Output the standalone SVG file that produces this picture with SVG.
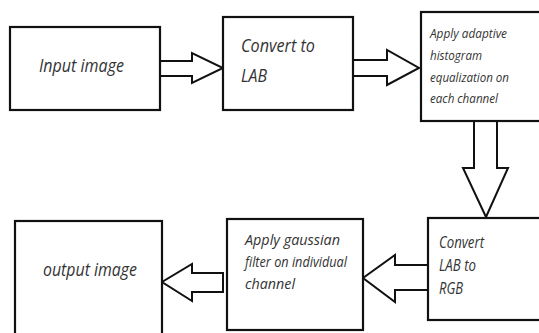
<svg xmlns="http://www.w3.org/2000/svg" width="539" height="333" viewBox="0 0 539 333">
<style>
.box{fill:#fff;stroke:#111;stroke-width:2.2}
.arr{fill:#fff;stroke:#111;stroke-width:2;stroke-linejoin:miter}
text{font-family:"Open Sans","Noto Sans","DejaVu Sans",sans-serif;font-style:italic;fill:#333}
</style>
<rect width="539" height="333" fill="#fff"/>
<g id="connectors">
<polygon class="arr" points="160,61 192,61 192,53 223,68 192,83 192,76 160,76"/>
<polygon class="arr" points="353,60 387,60 387,50 419,68 387,85 387,76 353,76"/>
<polygon class="arr" points="474,121 474,168 463,168 486,217 508,168 497,168 497,121"/>
<polygon class="arr" points="428,265 395,265 395,255 363,278 395,302 395,290 428,290"/>
<polygon class="arr" points="223,273 192,273 192,264 162,282 192,301 192,292 223,292"/>
</g>
<g id="input">
<rect class="box" x="10" y="27" width="150" height="83"/>
<text x="39" y="72" font-size="18" textLength="85" lengthAdjust="spacingAndGlyphs">Input image</text>
</g>
<g id="convert-lab">
<rect class="box" x="223" y="17" width="130" height="93"/>
<text x="241" y="52" font-size="19" textLength="74" lengthAdjust="spacingAndGlyphs">Convert to</text>
<text x="241" y="82" font-size="19" textLength="26" lengthAdjust="spacingAndGlyphs">LAB</text>
</g>
<g id="histeq">
<rect class="box" x="421" y="12" width="130" height="109"/>
<text font-size="13.5" x="430">
<tspan x="430" y="38" textLength="77" lengthAdjust="spacingAndGlyphs">Apply adaptive</tspan>
<tspan x="430" y="60" textLength="52" lengthAdjust="spacingAndGlyphs">histogram</tspan>
<tspan x="430" y="82" textLength="79" lengthAdjust="spacingAndGlyphs">equalization on</tspan>
<tspan x="430" y="103" textLength="68" lengthAdjust="spacingAndGlyphs">each channel</tspan>
</text>
</g>
<g id="convert-rgb">
<rect class="box" x="428" y="218" width="130" height="102"/>
<text font-size="16">
<tspan x="439" y="248" textLength="45" lengthAdjust="spacingAndGlyphs">Convert</tspan>
<tspan x="439" y="271" textLength="37" lengthAdjust="spacingAndGlyphs">LAB to</tspan>
<tspan x="439" y="294" textLength="24" lengthAdjust="spacingAndGlyphs">RGB</tspan>
</text>
</g>
<g id="gaussian">
<rect class="box" x="227" y="219" width="136" height="111"/>
<text font-size="14.5">
<tspan x="245" y="245" textLength="95" lengthAdjust="spacingAndGlyphs">Apply gaussian</tspan>
<tspan x="245" y="267" textLength="102" lengthAdjust="spacingAndGlyphs">filter on individual</tspan>
<tspan x="245" y="289" textLength="50" lengthAdjust="spacingAndGlyphs">channel</tspan>
</text>
</g>
<g id="output">
<rect class="box" x="15" y="221" width="147" height="130"/>
<text x="43" y="276" font-size="19" textLength="94" lengthAdjust="spacingAndGlyphs">output image</text>
</g>
</svg>
